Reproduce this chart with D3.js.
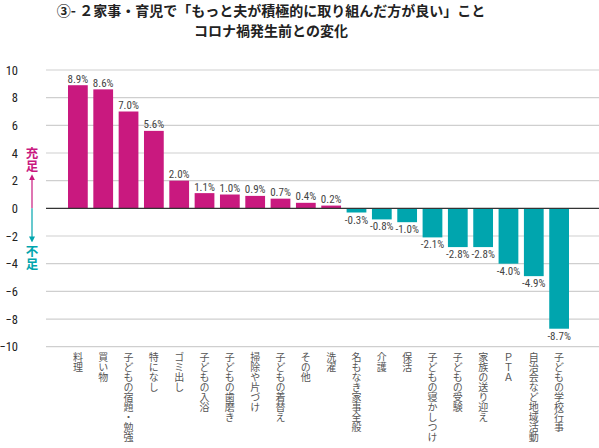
<!DOCTYPE html>
<html><head><meta charset="utf-8">
<script src="https://cdn.jsdelivr.net/npm/d3@7"></script>
<style>
html,body{margin:0;padding:0;background:#fff;}
svg{display:block;}
</style></head>
<body>
<svg id="chart" width="599" height="448"></svg>
<script>
const categories = ["料理","買い物","子どもの宿題・勉強","特になし","ゴミ出し","子どもの入浴","子どもの歯磨き","掃除や片づけ","子どもの着替え","その他","洗濯","名もなき家事全般","介護","保活","子どもの寝かしつけ","子どもの受験","家族の送り迎え","ＰＴＡ","自治会など地域活動","子どもの学校行事"];
const values = [8.9,8.6,7.0,5.6,2.0,1.1,1.0,0.9,0.7,0.4,0.2,-0.3,-0.8,-1.0,-2.1,-2.8,-2.8,-4.0,-4.9,-8.7];
const yTicks = [10,8,6,4,2,0,-2,-4,-6,-8,-10];
const titleLines = ["③- ２家事・育児で「もっと夫が積極的に取り組んだ方が良い」こと","コロナ禍発生前との変化"];

const posColor = "#c9197f", negColor = "#00a5ae";
const numFont = "'Liberation Sans Narrow','Roboto Condensed','Liberation Sans',sans-serif";
const jpFont = "'Noto Sans CJK JP',sans-serif";

const svg = d3.select("#chart");
const y = d3.scaleLinear().domain([-10,10]).range([346.7,70]);
const x = d3.scaleBand().domain(categories).range([68,569]).paddingInner(0.22).paddingOuter(0);

// title
svg.append("g").selectAll("text").data(titleLines).join("text")
  .attr("x",271).attr("y",(d,i)=>15.5+i*20.5)
  .attr("text-anchor","middle")
  .attr("font-family",jpFont).attr("font-weight","bold").attr("font-size",14)
  .attr("fill","#222").text(d=>d);

// gridlines
svg.append("g").selectAll("line").data(yTicks.filter(d=>d!==0)).join("line")
  .attr("x1",46).attr("x2",599).attr("y1",d=>y(d)).attr("y2",d=>y(d))
  .attr("stroke","#cfcfcf").attr("stroke-width",1.2);

// y axis
const ya = svg.append("g").attr("transform","translate(20,0)")
  .call(d3.axisLeft(y).tickValues(yTicks).tickSize(0).tickPadding(2).tickFormat(d3.format("d")));
ya.select(".domain").remove();
ya.selectAll("text").attr("font-family",numFont).attr("font-size",12.5).attr("fill","#222");

// bars
svg.append("g").selectAll("rect").data(values).join("rect")
  .attr("x",(d,i)=>x(categories[i]))
  .attr("width",x.bandwidth())
  .attr("y",d=>y(Math.max(0,d)))
  .attr("height",d=>Math.abs(y(d)-y(0)))
  .attr("fill",d=>d>=0?posColor:negColor);

// zero line
svg.append("line").attr("x1",46).attr("x2",599).attr("y1",y(0)).attr("y2",y(0))
  .attr("stroke","#333").attr("stroke-width",1.3);

// value labels
svg.append("g").selectAll("text").data(values).join("text")
  .attr("x",(d,i)=>x(categories[i])+x.bandwidth()/2)
  .attr("y",d=>d>=0?y(d)-2.5:y(d)+11)
  .attr("text-anchor","middle")
  .attr("font-family",numFont).attr("font-size",11).attr("fill","#444")
  .text(d=>d.toFixed(1)+"%");

// category labels (vertical)
svg.append("g").selectAll("text").data(categories).join("text")
  .attr("x",d=>x(d)+x.bandwidth()/2)
  .attr("y",352)
  .attr("font-family",jpFont).attr("font-size",10).attr("fill","#555")
  .style("writing-mode","vertical-rl").style("text-orientation","upright")
  .text(d=>d);

// arrows
const defs = svg.append("defs");
[["up",posColor],["down",negColor]].forEach(([id,c])=>{
  defs.append("marker").attr("id","m"+id).attr("viewBox","0 0 10 10").attr("refX",5).attr("refY",5)
    .attr("markerWidth",5).attr("markerHeight",5).attr("orient","auto")
    .append("path").attr("d","M0,0L10,5L0,10Z").attr("fill",c);
});
svg.append("line").attr("x1",32).attr("x2",32).attr("y1",y(0)).attr("y2",y(2.25))
  .attr("stroke",posColor).attr("stroke-width",1.2).attr("marker-end","url(#mup)");
svg.append("line").attr("x1",32).attr("x2",32).attr("y1",y(0)).attr("y2",y(-2.25))
  .attr("stroke",negColor).attr("stroke-width",1.2).attr("marker-end","url(#mdown)");
[["充足",147,posColor],["不足",245,negColor]].forEach(([t,yy,c])=>{
  svg.append("text").attr("x",32).attr("y",yy)
    .attr("font-family",jpFont).attr("font-weight","bold").attr("font-size",12.5).attr("fill",c)
    .style("writing-mode","vertical-rl").style("text-orientation","upright")
    .text(t);
});
</script>
</body></html>
